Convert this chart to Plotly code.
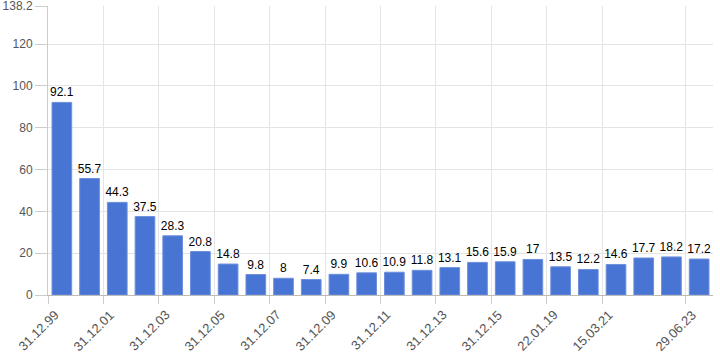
import plotly.graph_objects as go

categories = ["31.12.99", "31.12.00", "31.12.01", "31.12.02", "31.12.03", "31.12.04",
              "31.12.05", "31.12.06", "31.12.07", "31.12.08", "31.12.09", "31.12.10",
              "31.12.11", "31.12.12", "31.12.13", "31.12.14", "31.12.15", "31.12.16",
              "22.01.19", "30.06.20", "15.03.21", "31.12.21", "31.12.22", "29.06.23"]
values = [92.1, 55.7, 44.3, 37.5, 28.3, 20.8, 14.8, 9.8, 8, 7.4, 9.9, 10.6,
          10.9, 11.8, 13.1, 15.6, 15.9, 17, 13.5, 12.2, 14.6, 17.7, 18.2, 17.2]
tick_index = [0, 2, 4, 6, 8, 10, 12, 14, 16, 18, 20, 23]
y_ticks = [0, 20, 40, 60, 80, 100, 120, 138.2]

x_pos = [i + 0.5 for i in range(len(categories))]
label_shift = 0.6  # rotated labels sit slightly right of their gridline

fig = go.Figure(go.Bar(
    x=x_pos, y=values, width=0.71,
    marker=dict(color="#4874d3", line=dict(color="#6d90dc", width=1)),
    text=[f"{v:g}" for v in values], textposition="outside",
    textfont=dict(family="Arial", size=12, color="#000000"),
    constraintext="none", cliponaxis=False,
    hovertext=categories,
))

for i in tick_index:
    fig.add_annotation(
        x=i + label_shift, xref="x", y=0, yref="paper",
        text=categories[i], textangle=-45, showarrow=False,
        xanchor="right", yanchor="top", yshift=-9,
        font=dict(family="Arial", size=13, color="#555555"),
    )

fig.update_layout(
    width=720, height=360,
    margin=dict(l=48, r=7, t=6, b=65, autoexpand=False),
    plot_bgcolor="white", paper_bgcolor="white",
    showlegend=False,
    font=dict(family="Arial", size=12, color="#555555"),
    xaxis=dict(
        range=[0, len(categories)],
        tickmode="array",
        tickvals=tick_index,
        showticklabels=False,
        automargin=False,
        showgrid=True, gridcolor="#e4e4e4", gridwidth=1,
        ticks="outside", ticklen=8, tickcolor="#cccccc",
        showline=True, linecolor="#bbbbbb", linewidth=1,
        zeroline=False,
    ),
    yaxis=dict(
        range=[0, 138.2],
        tickmode="array",
        tickvals=y_ticks,
        ticktext=[f"{v:g}" for v in y_ticks],
        automargin=False,
        showgrid=True, gridcolor="#e4e4e4", gridwidth=1,
        ticks="outside", ticklen=12, tickcolor="#cccccc",
        showline=True, linecolor="#cccccc", linewidth=1,
        zeroline=False,
        ticklabeloverflow="allow",
        tickfont=dict(family="Arial", size=12, color="#555555"),
    ),
)

fig.write_html("out.html")
